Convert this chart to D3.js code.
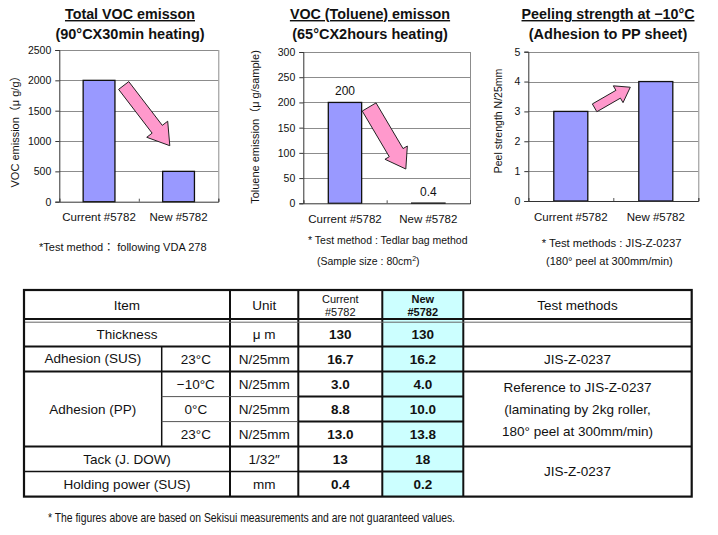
<!DOCTYPE html>
<html><head><meta charset="utf-8">
<script src="https://cdn.jsdelivr.net/npm/d3@7"></script>
<style>
body{margin:0;background:#fff;}
svg{display:block;font-family:"Liberation Sans",Arial,"Noto Sans CJK JP",sans-serif;}
</style></head><body>
<svg id="c" width="718" height="535"></svg>
<script>
// ---------- chart data ----------
const categories = ["Current #5782", "New #5782"];
const vocTotal = [2000, 500];
const vocTotalTicks = [0, 500, 1000, 1500, 2000, 2500];
const vocToluene = [200, 0.4];
const vocTolueneLabels = ["200", "0.4"];
const vocTolueneTicks = [0, 50, 100, 150, 200, 250, 300];
const peelStrength = [3.0, 4.0];
const peelTicks = [0, 1, 2, 3, 4, 5];
// arrow annotations in data units: [category position 0..2, value]
const arrowTotal = [[0.81, 1915], [1.39, 923]];
const arrowToluene = [[0.79, 191], [1.23, 68]];
const arrowPeel = [[0.78, 3.12], [1.20, 3.81]];

// ---------- table data ----------
const headerLabels = ["Item", "Unit", "Current\n#5782", "New\n#5782", "Test methods"];
const rowItems = ["Thickness", "Adhesion (SUS)", "Adhesion (PP)", "Adhesion (PP)", "Adhesion (PP)", "Tack (J. DOW)", "Holding power (SUS)"];
const rowConditions = ["", "23°C", "−10°C", "0°C", "23°C", "", ""];
const rowUnits = ["μ m", "N/25mm", "N/25mm", "N/25mm", "N/25mm", "1/32″", "mm"];
const currentValues = ["130", "16.7", "3.0", "8.8", "13.0", "13", "0.4"];
const newValues = ["130", "16.2", "4.0", "10.0", "13.8", "18", "0.2"];
const testMethodTexts = ["", "JIS-Z-0237", "Reference to JIS-Z-0237\n(laminating by 2kg roller,\n180° peel at 300mm/min)", "JIS-Z-0237"];
const testMethodSpans = [1, 1, 3, 2];
const footNote = "* The figures above are based on Sekisui measurements and are not guaranteed values.";

const svg = d3.select("#c");
const BAR = "#9999ff", ARROW = "#ff99cc", GRID = "#8c8c8c";

function drawChart(cfg) {
  const g = svg.append("g");
  const y = d3.scaleLinear().domain([0, cfg.max]).range([cfg.y1, cfg.y0]);
  const xb = d3.scaleBand().domain(categories).range([cfg.x0, cfg.x1]).paddingInner(0.6).paddingOuter(0.3);
  const xp = d3.scaleLinear().domain([0, 2]).range([cfg.x0, cfg.x1]);

  // gridlines
  g.selectAll(".grid").data(cfg.ticks.filter(t => t > 0)).join("line")
    .attr("x1", cfg.x0).attr("x2", cfg.x1)
    .attr("y1", d => Math.round(y(d)) + 0.5).attr("y2", d => Math.round(y(d)) + 0.5)
    .attr("stroke", GRID).attr("stroke-width", 1);
  // right border
  g.append("line").attr("x1", cfg.x1 + 0.5).attr("x2", cfg.x1 + 0.5).attr("y1", y(cfg.max)).attr("y2", y(0))
    .attr("stroke", GRID);

  // bars
  g.selectAll(".bar").data(cfg.values).join("rect")
    .attr("x", (d, i) => xb(categories[i]))
    .attr("width", xb.bandwidth())
    .attr("y", d => y(d))
    .attr("height", d => y(0) - y(d))
    .attr("fill", BAR).attr("stroke", "#111").attr("stroke-width", 1.3);

  // y axis
  const ya = g.append("g").attr("transform", `translate(${cfg.x0},0)`)
    .call(d3.axisLeft(y).tickValues(cfg.ticks).tickSize(4).tickPadding(4).tickFormat(d => String(d)));
  ya.select(".domain").attr("stroke", "#333");
  ya.selectAll(".tick line").attr("stroke", "#333");
  ya.selectAll("text").attr("font-size", 10.5).attr("fill", "#111")
    .attr("font-family", "Liberation Sans Narrow, Liberation Sans, Arial, sans-serif");

  // x axis baseline with boundary ticks
  const xa = g.append("g").attr("transform", `translate(0,${y(0)})`)
    .call(d3.axisBottom(xp).tickValues([0, 1, 2]).tickSize(-3).tickFormat(""));
  xa.select(".domain").attr("stroke", "#333");
  xa.selectAll(".tick line").attr("stroke", "#555");
  // category labels
  g.selectAll(".cat").data(categories).join("text")
    .attr("x", d => xb(d) + xb.bandwidth() / 2).attr("y", y(0) + cfg.catDy)
    .attr("text-anchor", "middle").attr("font-size", 11.5).attr("fill", "#111").text(d => d);

  // value labels
  if (cfg.valueLabels) {
    g.selectAll(".vl").data(cfg.values).join("text")
      .attr("x", (d, i) => xb(categories[i]) + xb.bandwidth() / 2)
      .attr("y", d => y(d) - 7)
      .attr("text-anchor", "middle").attr("font-size", 12).attr("fill", "#111")
      .text((d, i) => cfg.valueLabels[i]);
  }

  // arrow
  const S = [xp(cfg.arrow[0][0]), y(cfg.arrow[0][1])];
  const T = [xp(cfg.arrow[1][0]), y(cfg.arrow[1][1])];
  const dx = T[0] - S[0], dy = T[1] - S[1], L = Math.hypot(dx, dy);
  const u = [dx / L, dy / L], n = [-u[1], u[0]];
  const B = [T[0] - u[0] * cfg.hl, T[1] - u[1] * cfg.hl];
  const p = (P, k) => [P[0] + n[0] * k, P[1] + n[1] * k];
  const pts = [p(S, cfg.w), p(B, cfg.w), p(B, cfg.hw), T, p(B, -cfg.hw), p(B, -cfg.w), p(S, -cfg.w)];
  g.append("polygon").attr("points", pts.map(q => q.join(",")).join(" "))
    .attr("fill", ARROW).attr("stroke", "#222").attr("stroke-width", 1).attr("stroke-linejoin", "miter");

  // titles
  g.append("text").attr("x", cfg.tx).attr("y", 19).attr("text-anchor", "middle")
    .attr("font-size", 14.3).attr("font-weight", "bold").attr("fill", "#111")
    .attr("text-decoration", "underline").text(cfg.title1);
  g.append("text").attr("x", cfg.tx).attr("y", 38.5).attr("text-anchor", "middle")
    .attr("font-size", 14.5).attr("font-weight", "bold").attr("fill", "#111").text(cfg.title2);

  // y label
  g.append("text").attr("transform", `translate(${cfg.ylx},${cfg.yly}) rotate(-90)`)
    .attr("text-anchor", "middle").attr("dy", "0.35em").attr("font-size", cfg.ylfs).attr("fill", "#111")
    .text(cfg.ylabel);

  // notes
  cfg.notes.forEach(nt => {
    const t = g.append("text").attr("x", nt.x).attr("y", nt.y).attr("font-size", nt.fs).attr("fill", "#111");
    if (nt.sup) {
      t.append("tspan").text(nt.text);
      t.append("tspan").attr("font-size", 7).attr("dy", -4).text(nt.sup);
      t.append("tspan").attr("dy", 4).text(nt.after);
    } else t.text(nt.text);
  });
}

drawChart({
  x0: 59.3, x1: 218.3, y0: 50, y1: 201.7, max: 2500, ticks: vocTotalTicks, values: vocTotal,
  arrow: arrowTotal, w: 6.4, hw: 13.2, hl: 20.7, catDy: 19.5,
  tx: 130, title1: "Total VOC emisson", title2: "(90°CX30min heating)",
  ylabel: "VOC emission（μ g/g）", ylx: 15, yly: 129, ylfs: 11,
  notes: [{ text: "*Test method：  following VDA 278", x: 39, y: 250.5, fs: 11 }]
});
drawChart({
  x0: 303.3, x1: 470, y0: 52, y1: 203.3, max: 300, ticks: vocTolueneTicks, values: vocToluene,
  valueLabels: vocTolueneLabels,
  arrow: arrowToluene, w: 8, hw: 13, hl: 19, catDy: 19.5,
  tx: 370, title1: "VOC (Toluene) emisson", title2: "(65°CX2hours heating)",
  ylabel: "Toluene emission（μ g/sample)", ylx: 255, yly: 127, ylfs: 11,
  notes: [{ text: "* Test method : Tedlar bag method", x: 308, y: 244, fs: 10.5 },
          { text: "(Sample size : 80cm", sup: "2", after: ")", x: 317, y: 265, fs: 10.5 }]
});
drawChart({
  x0: 528.3, x1: 698.3, y0: 51.7, y1: 201, max: 5, ticks: peelTicks, values: peelStrength,
  arrow: arrowPeel, w: 4.5, hw: 9.7, hl: 14, catDy: 19.5,
  tx: 608, title1: "Peeling strength at −10°C", title2: "(Adhesion to PP sheet)",
  ylabel: "Peel strength  N/25mm", ylx: 498, yly: 121, ylfs: 10.5,
  notes: [{ text: "* Test methods : JIS-Z-0237", x: 541.7, y: 246.5, fs: 11.3 },
          { text: "(180° peel at 300mm/min)", x: 546, y: 264.5, fs: 11 }]
});

// ---------- table ----------
const T = svg.append("g");
const colX = [24, 161.7, 230, 298.3, 382.3, 463.3, 691.7];
const tTop = 290, hBottom = 321;
const rowY = d3.scaleBand().domain(d3.range(rowItems.length)).range([321.6, 496.6]);
const rh = rowY.bandwidth();
const FS = 13.5;

// new column fill
T.append("rect").attr("x", colX[4]).attr("y", tTop).attr("width", colX[5] - colX[4]).attr("height", rowY(6) + rh - tTop)
  .attr("fill", "#ccffff");

function line(x1, y1, x2, y2, w, c) {
  T.append("line").attr("x1", x1).attr("y1", y1).attr("x2", x2).attr("y2", y2)
    .attr("stroke", c || "#111").attr("stroke-width", w);
}
const tBot = rowY(6) + rh;
// verticals
[colX[2], colX[3], colX[4], colX[5]].forEach(x => line(x, tTop, x, tBot, 2));
line(colX[1], rowY(1), colX[1], rowY(5), 1.5);
// header bottom (double)
line(colX[0], hBottom - 2, colX[6], hBottom - 2, 2);
line(colX[0], hBottom + 1.2, colX[6], hBottom + 1.2, 1, "#666");
// row separators
line(colX[0], rowY(1), colX[6], rowY(1), 2);
line(colX[0], rowY(2), colX[6], rowY(2), 2);
line(colX[1], rowY(3), colX[3], rowY(3), 1, "#555");
line(colX[1], rowY(4), colX[3], rowY(4), 1, "#555");
line(colX[3], rowY(3), colX[5], rowY(3), 2);
line(colX[3], rowY(4), colX[5], rowY(4), 2);
line(colX[0], rowY(5), colX[6], rowY(5), 2);
line(colX[0], rowY(6), colX[3], rowY(6), 1.5);
line(colX[3], rowY(6), colX[5], rowY(6), 2);
// outer border
T.append("rect").attr("x", colX[0]).attr("y", tTop).attr("width", colX[6] - colX[0]).attr("height", tBot - tTop)
  .attr("fill", "none").attr("stroke", "#111").attr("stroke-width", 2.2);

function txt(x, y, s, o) {
  o = o || {};
  const lines = s.split("\n");
  const lh = o.lh || 15;
  const t = T.append("text").attr("x", x).attr("text-anchor", "middle")
    .attr("font-size", o.fs || FS).attr("font-weight", o.bold ? "bold" : "normal").attr("fill", "#111");
  lines.forEach((l, i) => {
    t.append("tspan").attr("x", x).attr("y", y + (i - (lines.length - 1) / 2) * lh).attr("dy", "0.36em").text(l);
  });
}
const cx = (a, b) => (colX[a] + colX[b]) / 2;
const hy = (tTop + hBottom) / 2;
// header
txt(cx(0, 2), hy, headerLabels[0]);
txt(cx(2, 3), hy, headerLabels[1]);
txt(cx(3, 4), hy + 0.5, headerLabels[2], { fs: 11, lh: 13 });
txt(cx(4, 5), hy + 0.5, headerLabels[3], { fs: 11, lh: 13, bold: true });
txt(cx(5, 6), hy, headerLabels[4]);

rowItems.forEach((item, i) => {
  const ym = rowY(i) + rh / 2;
  const cond = rowConditions[i];
  if (!cond) txt(cx(0, 2), ym, item);
  else {
    if (i === 1) txt(cx(0, 1), ym - 1, item);
    txt(cx(1, 2), ym, cond);
  }
  txt(cx(2, 3), ym, rowUnits[i]);
  txt(cx(3, 4), ym, currentValues[i], { bold: true });
  txt(cx(4, 5), ym, newValues[i], { bold: true });
});
// merged Adhesion (PP)
txt(cx(0, 1), rowY(3) + rh / 2, rowItems[2]);

// test methods merged cells
let r0 = 0;
testMethodTexts.forEach((s, k) => {
  const span = testMethodSpans[k];
  const ym = (rowY(r0) + rowY(r0 + span - 1) + rh) / 2;
  if (s) txt(cx(5, 6), ym, s, { lh: 22 });
  r0 += span;
});

// footnote
svg.append("text").attr("x", 48).attr("y", 522).attr("font-size", 13).attr("fill", "#111")
  .attr("textLength", 407).attr("lengthAdjust", "spacingAndGlyphs").text(footNote);
</script>
</body></html>
